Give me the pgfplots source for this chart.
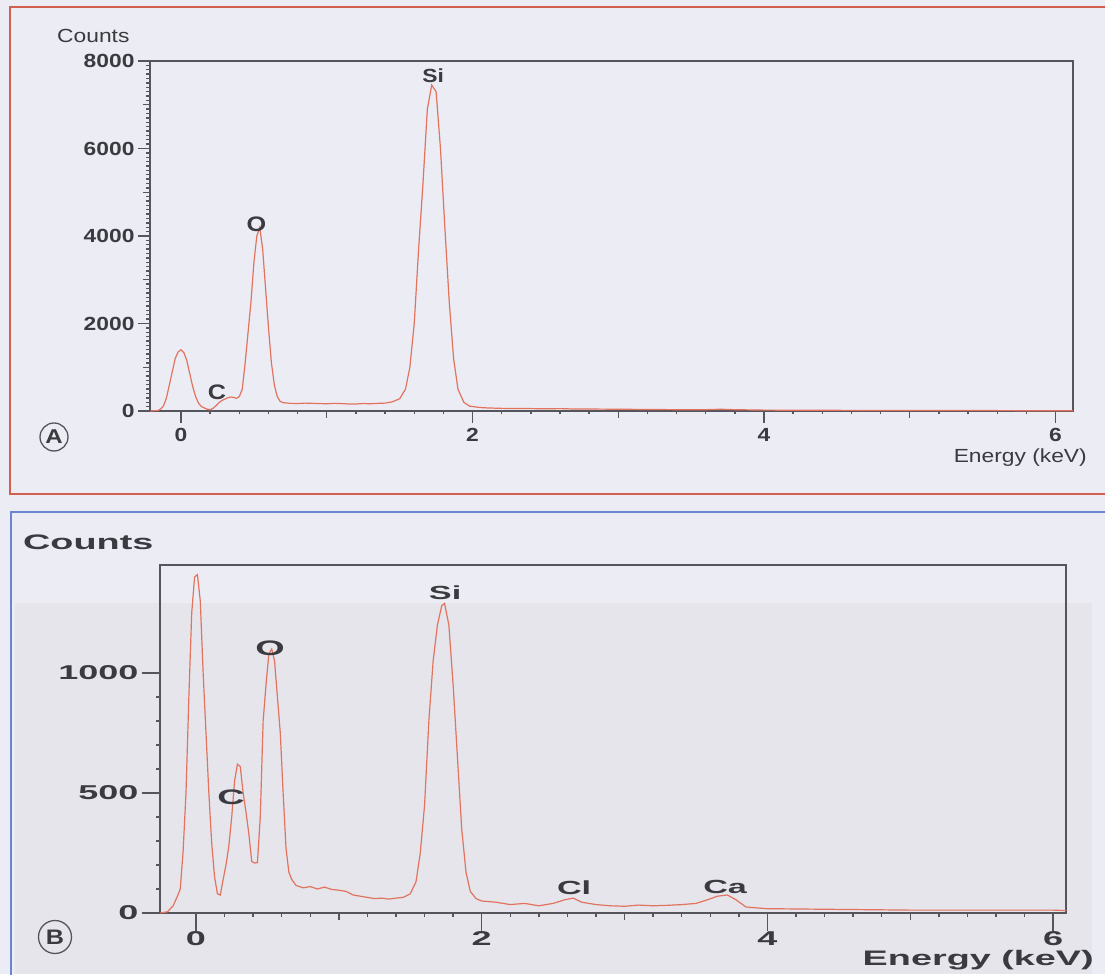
\documentclass[border=0pt]{standalone}
\usepackage{fontspec}
\setmainfont{Liberation Sans}
\newfontfamily\fA{Liberation Sans}[FakeStretch=1.2]
\newfontfamily\fB{Liberation Sans}[FakeStretch=1.8]
\usepackage{pgfplots}
\usepackage{pgfplotstable}
\pgfplotsset{compat=1.18}

\definecolor{bg}{HTML}{ECECF4}
\definecolor{grayregion}{HTML}{E5E5EB}
\definecolor{redframe}{HTML}{D2604E}
\definecolor{blueframe}{HTML}{6C85D0}
\definecolor{axisgray}{HTML}{55555C}
\definecolor{txt}{HTML}{3A3A40}
\definecolor{curve}{HTML}{E2735E}

\pgfplotstableread{
x y
-0.21 0
-0.16 10
-0.14 40
-0.12 120
-0.10 300
-0.08 600
-0.06 900
-0.04 1200
-0.02 1350
0.00 1400
0.02 1330
0.04 1150
0.06 850
0.08 560
0.10 330
0.12 180
0.14 100
0.16 70
0.18 40
0.20 30
0.22 60
0.24 120
0.26 190
0.28 240
0.30 270
0.32 300
0.34 320
0.36 310
0.38 290
0.40 330
0.42 500
0.44 1100
0.46 1800
0.48 2500
0.50 3400
0.52 4000
0.54 4200
0.56 3700
0.58 2800
0.60 1900
0.62 1100
0.64 600
0.66 330
0.68 220
0.70 190
0.75 175
0.80 170
0.85 180
0.90 175
0.95 170
1.00 165
1.05 175
1.10 170
1.15 160
1.20 160
1.25 170
1.30 165
1.35 175
1.40 180
1.45 210
1.50 280
1.54 500
1.57 1000
1.60 2000
1.63 3700
1.66 5200
1.69 6900
1.72 7450
1.75 7300
1.78 6000
1.81 4200
1.84 2500
1.87 1200
1.90 500
1.94 200
1.98 110
2.05 80
2.10 70
2.20 60
2.30 55
2.40 55
2.50 50
2.60 55
2.70 45
2.80 45
3.00 40
3.20 35
3.40 30
3.60 30
3.70 40
3.80 30
4.00 20
4.50 15
5.00 10
5.50 10
6.00 5
6.12 5
}\dataA

\pgfplotstableread{
x y
-0.25 0
-0.20 5
-0.16 30
-0.13 70
-0.11 100
-0.09 260
-0.07 500
-0.05 900
-0.03 1250
-0.01 1400
0.01 1410
0.03 1300
0.05 1000
0.07 750
0.09 500
0.11 290
0.13 150
0.15 80
0.17 75
0.19 140
0.21 200
0.23 280
0.25 400
0.27 550
0.29 620
0.31 610
0.33 500
0.35 420
0.37 330
0.39 215
0.41 208
0.43 210
0.45 400
0.47 800
0.49 950
0.51 1080
0.53 1100
0.55 1050
0.57 900
0.59 750
0.61 500
0.63 270
0.65 170
0.67 140
0.70 115
0.75 105
0.80 110
0.85 100
0.90 108
0.95 98
1.00 95
1.05 90
1.10 75
1.15 70
1.20 65
1.25 60
1.30 62
1.35 58
1.40 62
1.45 65
1.50 80
1.54 130
1.57 250
1.60 450
1.63 800
1.66 1050
1.69 1200
1.72 1280
1.74 1290
1.77 1200
1.80 950
1.83 650
1.86 350
1.89 170
1.92 90
1.96 60
2.00 50
2.10 45
2.20 35
2.30 40
2.40 30
2.50 40
2.58 55
2.64 62
2.70 45
2.80 35
2.90 30
3.00 28
3.10 33
3.20 30
3.30 32
3.40 35
3.50 40
3.58 55
3.65 70
3.72 75
3.78 55
3.85 25
3.95 20
4.00 18
4.50 15
5.00 12
5.50 12
6.00 12
6.09 10
}\dataB

\begin{document}
\begin{tikzpicture}[x=1pt,y=1pt]
% background and frames
\fill[bg] (0,0) rectangle (1105,974);
\fill[grayregion] (15,0) rectangle (1092,371);
\draw[redframe, line width=2.5pt] (10,480) rectangle (1120,967);
\draw[blueframe, line width=2.5pt] (11,-20) rectangle (1120,462);

% ---------- Panel A ----------
\begin{axis}[
  at={(150pt,563pt)}, anchor=south west,
  width=923pt, height=350pt, scale only axis,
  xmin=-0.213, xmax=6.12, ymin=0, ymax=8000,
  xtick={0,2,4,6}, ytick={0,2000,4000,6000,8000},
  minor x tick num=9, minor y tick num=19,
  extra x ticks={1,3,5}, extra x tick labels={},
  extra y ticks={1000,3000,5000,7000}, extra y tick labels={},
  extra tick style={major tick length=7pt},
  tick pos=left, tick align=outside,
  major tick length=12pt, minor tick length=3.5pt,
  axis line style={draw=axisgray, line width=1.6pt},
  every tick/.style={draw=axisgray, line width=1.4pt},
  scaled y ticks=false,
  /pgf/number format/1000 sep={},
  /pgf/number format/assume math mode=true,
  ticklabel style={font=\fA\bfseries\fontsize{19}{20}\selectfont, text=txt},
  xticklabel style={yshift=-2pt},
  clip=false,
]
\addplot[curve, line width=1.2pt] table[x=x,y=y] {\dataA};
\node[font=\fA\bfseries\fontsize{19}{20}\selectfont, text=txt] at (axis cs:1.73,7658) {Si};
\node[font=\fA\bfseries\fontsize{21}{22}\selectfont, text=txt] at (axis cs:0.518,4274) {O};
\node[font=\fA\bfseries\fontsize{21}{22}\selectfont, text=txt] at (axis cs:0.247,434) {C};
\end{axis}

% ---------- Panel B ----------
\begin{axis}[
  at={(160pt,61pt)}, anchor=south west,
  width=906pt, height=348pt, scale only axis,
  xmin=-0.252, xmax=6.09, ymin=0, ymax=1450,
  xtick={0,2,4,6}, ytick={0,500,1000},
  minor x tick num=9, minor y tick num=4,
  extra x ticks={1,3,5}, extra x tick labels={},
  extra tick style={major tick length=7pt},
  tick pos=left, tick align=outside,
  major tick length=18pt, minor tick length=4pt,
  axis line style={draw=axisgray, line width=1.6pt},
  every tick/.style={draw=axisgray, line width=1.4pt},
  scaled y ticks=false,
  /pgf/number format/1000 sep={},
  /pgf/number format/assume math mode=true,
  ticklabel style={font=\fB\bfseries\fontsize{20}{22}\selectfont, text=txt},
  xticklabel style={yshift=3pt},
  clip=false,
]
\addplot[curve, line width=1.2pt] table[x=x,y=y] {\dataB};
\node[font=\fB\bfseries\fontsize{19}{20}\selectfont, text=txt] at (axis cs:1.744,1333) {Si};
\node[font=\fB\bfseries\fontsize{21}{22}\selectfont, text=txt] at (axis cs:0.518,1104) {O};
\node[font=\fB\bfseries\fontsize{21}{22}\selectfont, text=txt] at (axis cs:0.245,483) {C};
\node[font=\fB\bfseries\fontsize{19}{20}\selectfont, text=txt] at (axis cs:2.647,104) {Cl};
\node[font=\fB\bfseries\fontsize{19}{20}\selectfont, text=txt] at (axis cs:3.704,108) {Ca};
\end{axis}

% axis titles
\node[anchor=base west, inner sep=0, font=\fA\fontsize{19}{20}\selectfont, text=txt] at (57,931) {Counts};
\node[anchor=base east, inner sep=0, font=\fA\fontsize{19}{20}\selectfont, text=txt] at (1087,511) {Energy (keV)};
\node[anchor=base west, inner sep=0, font=\fB\bfseries\fontsize{21}{22}\selectfont, text=txt] at (23,424) {Counts};
\node[anchor=base east, inner sep=0, font=\fB\bfseries\fontsize{21}{23}\selectfont, text=txt] at (1094,9) {Energy (keV)};

% panel letters
\node[circle, draw=axisgray, line width=1.3pt, minimum size=28pt, inner sep=0,
      font=\fA\bfseries\fontsize{20}{20}\selectfont, text=txt] at (54,537) {A};
\node[circle, draw=axisgray, line width=1.3pt, minimum size=33pt, inner sep=0,
      font=\fA\bfseries\fontsize{21}{21}\selectfont, text=txt] at (55,37) {B};

\pgfresetboundingbox
\useasboundingbox (0,0) rectangle (1105,974);
\end{tikzpicture}
\end{document}
